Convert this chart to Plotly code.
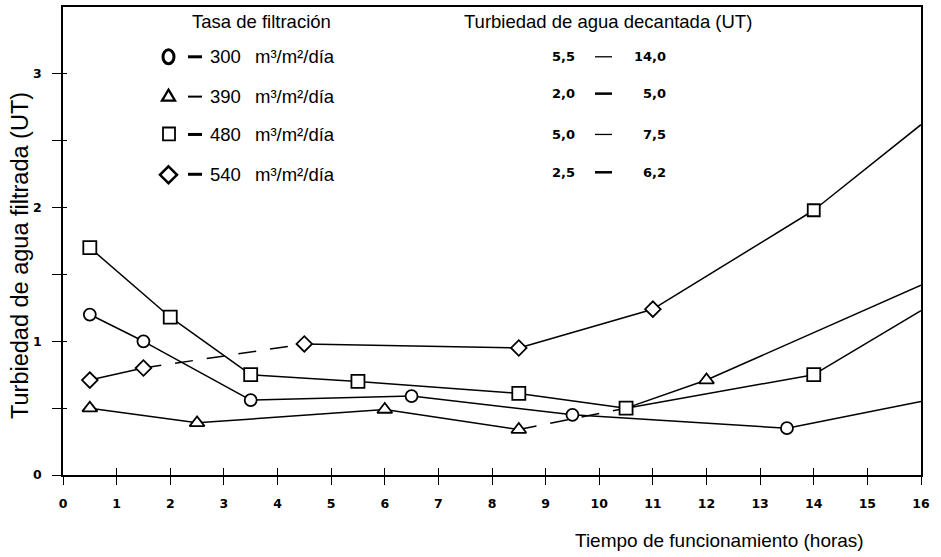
import plotly.graph_objects as go

# ---------------- data ----------------
hours_300 = [0.5, 1.5, 3.5, 6.5, 9.5, 13.5, 16.0]
turb_300 = [1.20, 1.00, 0.56, 0.59, 0.45, 0.35, 0.55]
marks_300 = ["circle", "circle", "circle", "circle", "circle", "circle", None]
dashed_300 = []

hours_390 = [0.5, 2.5, 6.0, 8.5, 10.5, 12.0, 16.0]
turb_390 = [0.50, 0.39, 0.49, 0.34, 0.50, 0.71, 1.42]
marks_390 = ["triangle-up", "triangle-up", "triangle-up", "triangle-up", None, "triangle-up", None]
dashed_390 = [3]

hours_480 = [0.5, 2.0, 3.5, 5.5, 8.5, 10.5, 14.0, 16.0]
turb_480 = [1.70, 1.18, 0.75, 0.70, 0.61, 0.50, 0.75, 1.23]
marks_480 = ["square", "square", "square", "square", "square", "square", "square", None]
dashed_480 = []

hours_540 = [0.5, 1.5, 4.5, 8.5, 11.0, 14.0, 16.0]
turb_540 = [0.71, 0.80, 0.98, 0.95, 1.24, 1.98, 2.62]
marks_540 = ["diamond", "diamond", "diamond", "diamond", "diamond", "square", None]
dashed_540 = [1]

rates = ["300", "390", "480", "540"]
decant_low = ["5,5", "2,0", "5,0", "2,5"]
decant_high = ["14,0", "5,0", "7,5", "6,2"]

x_ticks = list(range(0, 17))
y_ticks = [0, 0.5, 1, 1.5, 2, 2.5, 3]
y_ticktext = ["0", "", "1", "", "2", "", "3"]

# ---------------- layout geometry ----------------
W, H = 941, 557
L, R, T, B = 63, 20, 5, 82
PW = W - L - R
PH = H - T - B


def px(x):
    return (x - L) / PW


def py(y):
    return (H - B - y) / PH


fig = go.Figure()

series = [
    (hours_300, turb_300, marks_300, dashed_300, 12),
    (hours_390, turb_390, marks_390, dashed_390, 13),
    (hours_480, turb_480, marks_480, dashed_480, 13),
    (hours_540, turb_540, marks_540, dashed_540, 12),
]

LINE_W = 1.5
# lines first
for xs, ys, mk, dsh, sz in series:
    sx, sy, dx, dy = [], [], [], []
    for i in range(len(xs) - 1):
        if i in dsh:
            dx += [xs[i], xs[i + 1], None]
            dy += [ys[i], ys[i + 1], None]
        else:
            sx += [xs[i], xs[i + 1], None]
            sy += [ys[i], ys[i + 1], None]
    fig.add_trace(go.Scatter(x=sx, y=sy, mode="lines",
                             line=dict(color="black", width=LINE_W),
                             hoverinfo="skip", showlegend=False))
    if dx:
        fig.add_trace(go.Scatter(x=dx, y=dy, mode="lines",
                                 line=dict(color="black", width=LINE_W, dash="18px,14px"),
                                 hoverinfo="skip", showlegend=False))

# markers on top
for xs, ys, mk, dsh, sz in series:
    mx = [x for x, m in zip(xs, mk) if m]
    my = [y for y, m in zip(ys, mk) if m]
    ms = [m for m in mk if m]
    fig.add_trace(go.Scatter(x=mx, y=my, mode="markers",
                             marker=dict(symbol=ms, size=sz, color="white",
                                         line=dict(color="black", width=1.8)),
                             showlegend=False))

# empty trace for overlay axes (crossing ticks)
fig.add_trace(go.Scatter(x=[], y=[], xaxis="x2", yaxis="y2", showlegend=False))

tick_font = dict(family="DejaVu Sans", size=12.5, color="black", weight="bold")

fig.update_layout(
    width=W, height=H,
    margin=dict(l=L, r=R, t=T, b=B),
    paper_bgcolor="white", plot_bgcolor="white",
    showlegend=False,
    xaxis=dict(range=[0, 16], tickvals=x_ticks, ticktext=[str(v) for v in x_ticks],
               ticks="outside", ticklen=8, tickwidth=1.3, tickcolor="black",
               showline=True, linewidth=1.8, linecolor="black", mirror=True,
               showgrid=False, zeroline=False, tickfont=tick_font,
               ticklabelstandoff=8),
    yaxis=dict(range=[0, 3.5], tickvals=y_ticks, ticktext=y_ticktext,
               ticks="outside", ticklen=9, tickwidth=1.3, tickcolor="black",
               showline=True, linewidth=1.8, linecolor="black", mirror=True,
               showgrid=False, zeroline=False, tickfont=tick_font,
               ticklabelstandoff=8),
    xaxis2=dict(overlaying="x", matches="x", anchor="y2", side="bottom",
                tickvals=x_ticks, ticks="inside", ticklen=7, tickwidth=1.3,
                tickcolor="black", showticklabels=False, showline=False,
                showgrid=False, zeroline=False),
    yaxis2=dict(overlaying="y", matches="y", anchor="x2", side="left",
                tickvals=y_ticks, ticks="inside", ticklen=4, tickwidth=1.3,
                tickcolor="black", showticklabels=False, showline=False,
                showgrid=False, zeroline=False),
)

TXT = dict(family="Liberation Sans, Arial, sans-serif", size=18.5, color="black")
VAL = dict(family="DejaVu Sans", size=13, color="black", weight="bold")

ann = []


def text(s, x, y, xanchor="left", font=TXT, angle=0):
    ann.append(dict(text=s, x=px(x), y=py(y), xref="paper", yref="paper",
                    xanchor=xanchor, yanchor="middle", showarrow=False,
                    font=font, textangle=angle))


text("Tasa de filtración", 190, 20)
text("Turbiedad de agua decantada (UT)", 462, 20)

rows_left = [55, 95, 133, 173]
rows_right = [55, 92, 133, 171]
for i, r in enumerate(rates):
    text(r, 208, rows_left[i])
    text("m³/m²/día", 253, rows_left[i])
for i in range(4):
    text(decant_low[i], 550, rows_right[i], font=VAL)
    text(decant_high[i], 668, rows_right[i], xanchor="right", font=VAL)

text("Tiempo de funcionamiento (horas)", 573, 541, font=dict(TXT, size=19))
ann.append(dict(text="Turbiedad de agua filtrada (UT)", x=px(20), y=py(255),
                xref="paper", yref="paper", xanchor="center", yanchor="middle",
                showarrow=False, textangle=-90,
                font=dict(family="Liberation Sans, Arial, sans-serif", size=23.5, color="black")))
fig.update_layout(annotations=ann)

# legend symbols and dashes (shapes in paper coordinates)
shapes = []


def line(x0, y0, x1, y1, w):
    shapes.append(dict(type="line", xref="paper", yref="paper",
                       x0=px(x0), y0=py(y0), x1=px(x1), y1=py(y1),
                       line=dict(color="black", width=w)))


def path(pts, w):
    d = "M " + " L ".join(f"{px(a):.5f},{py(b):.5f}" for a, b in pts) + " Z"
    shapes.append(dict(type="path", xref="paper", yref="paper", path=d,
                       line=dict(color="black", width=w), fillcolor="rgba(0,0,0,0)"))


shapes.append(dict(type="circle", xref="paper", yref="paper",
                   x0=px(163), x1=px(174), y0=py(48), y1=py(62),
                   line=dict(color="black", width=3)))
path([(168.5, 88), (175, 99), (162, 99)], 2.3)
path([(163, 126), (175, 126), (175, 139), (163, 139)], 1.8)
path([(168.5, 165), (177, 173.5), (168.5, 182), (160, 173.5)], 2.5)

for y, w in zip(rows_left, [3, 2, 3, 3]):
    line(188, y, 202, y, w)
for y, w in zip(rows_right, [1.3, 2.5, 1.3, 2.5]):
    line(595, y, 612, y, w)

fig.update_layout(shapes=shapes)

fig.write_html("out.html")
